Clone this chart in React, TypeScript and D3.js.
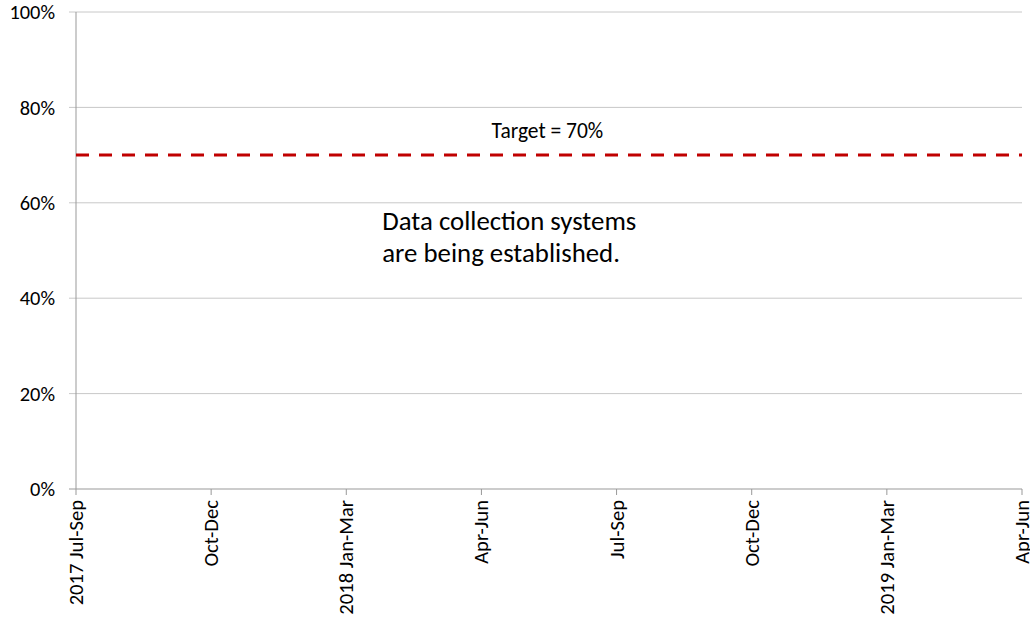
import React from "react";
import * as d3 from "d3";

const categories = [
  "2017 Jul-Sep",
  "Oct-Dec",
  "2018 Jan-Mar",
  "Apr-Jun",
  "Jul-Sep",
  "Oct-Dec ",
  "2019 Jan-Mar",
  "Apr-Jun ",
];
const yTicks = [0, 0.2, 0.4, 0.6, 0.8, 1.0];
const targetValue = 0.7;
const targetLabel = "Target = 70%";
const noteLines = ["Data collection systems", "are being established."];

const W = 1030;
const H = 621;
const M = { left: 76, right: 8, top: 12, bottom: 132 };
const FONT = "Carlito, Calibri, Lato, 'Open Sans', sans-serif";

export default function App() {
  const x = d3
    .scalePoint<string>()
    .domain(categories)
    .range([M.left, W - M.right]);
  const y = d3
    .scaleLinear()
    .domain([0, 1])
    .range([H - M.bottom, M.top]);
  const fmt = d3.format(".0%");
  const x0 = M.left;
  const x1 = W - M.right;
  const yT = y(targetValue);
  return (
    <svg
      width={W}
      height={H}
      style={{ position: "absolute", left: 0, top: 0, background: "#fff" }}
      fontFamily={FONT}
    >
      {yTicks.map((t) => (
        <g key={t}>
          <line x1={x0 - 7} x2={x1} y1={y(t)} y2={y(t)} stroke={t === 0 ? "#999" : "#c8c8c8"} strokeWidth={1} />
          <text x={x0 - 21} y={y(t)} dy="0.35em" textAnchor="end" fontSize={20.4} fill="#000">
            {fmt(t)}
          </text>
        </g>
      ))}
      <line x1={x0} x2={x0} y1={M.top} y2={y(0)} stroke="#999" />
      {categories.map((c) => (
        <g key={c}>
          <line x1={x(c)!} x2={x(c)!} y1={y(0)} y2={y(0) + 6} stroke="#999" />
          <text
            transform={`translate(${x(c)! + 7},${y(0) + 11}) rotate(-90)`}
            textAnchor="end"
            fontSize={20.6}
            fill="#000"
          >
            {c.trim()}
          </text>
        </g>
      ))}
      <line
        x1={x0}
        x2={x1}
        y1={yT}
        y2={yT}
        stroke="#C00000"
        strokeWidth={3}
        strokeDasharray="13,10"
      />
      <text x={x(categories[3])! + 66} y={yT - 17} textAnchor="middle" fontSize={21.5} fill="#000">
        {targetLabel}
      </text>
      {noteLines.map((l, i) => (
        <text key={i} x={x(categories[2])! + 36} y={y(0.6) + 27 + i * 32} fontSize={26.8} fill="#000">
          {l}
        </text>
      ))}
    </svg>
  );
}
